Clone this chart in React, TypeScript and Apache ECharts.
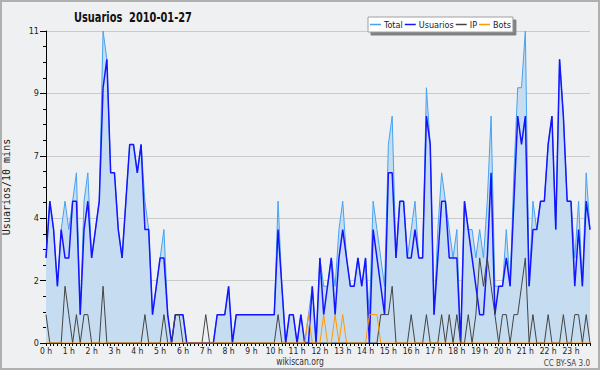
import React, { useEffect, useRef } from 'react';
import * as echarts from 'echarts';

const FONT = '"Liberation Sans Narrow", "DejaVu Sans Condensed", "Liberation Sans", sans-serif';

const HOURS = [0, 1, 2, 3, 4, 5, 6, 7, 8, 9, 10, 11, 12, 13, 14, 15, 16, 17, 18, 19, 20, 21, 22, 23];
const MINUTES = ['00', '10', '20', '30', '40', '50'];
const Y_TICKS_MAX = 11;
const Y_TICK_STEP = 2.2;

const TOTAL = [
  3, 5, 4, 2, 4, 5, 4, 5, 6, 1, 5, 6,
  3, 4, 5, 11, 10, 6, 6, 4, 3, 5, 7, 7,
  6, 7, 5, 4, 1, 2, 3, 4, 1, 0, 1, 1,
  1, 0, 0, 0, 0, 0, 0, 0, 0, 1, 1, 1,
  2, 0, 1, 1, 1, 1, 1, 1, 1, 1, 1, 1,
  1, 5, 2, 0, 1, 1, 0, 1, 0, 1, 2, 0,
  3, 2, 2, 3, 2, 4, 5, 3, 2, 2, 3, 2,
  3, 1, 5, 4, 3, 2, 7, 8, 3, 5, 5, 3,
  4, 5, 3, 3, 9, 7, 1, 4, 6, 5, 4, 3,
  4, 0, 5, 4, 4, 3, 4, 3, 5, 8, 2, 2,
  2, 4, 2, 6, 9, 9, 11, 2, 5, 4, 5, 5,
  7, 8, 4, 10, 8, 5, 5, 3, 5, 2, 6, 4,
];

const USUARIOS = [
  3, 5, 4, 2, 4, 3, 3, 5, 5, 1, 4, 5,
  3, 4, 5, 9, 10, 6, 6, 4, 3, 5, 7, 7,
  6, 7, 4, 4, 1, 2, 3, 3, 1, 0, 1, 1,
  1, 0, 0, 0, 0, 0, 0, 0, 0, 1, 1, 1,
  2, 0, 1, 1, 1, 1, 1, 1, 1, 1, 1, 1,
  1, 4, 2, 0, 1, 1, 0, 1, 0, 0, 2, 0,
  3, 1, 2, 3, 1, 3, 4, 3, 2, 2, 3, 2,
  3, 0, 4, 3, 2, 1, 6, 6, 3, 5, 5, 3,
  3, 4, 3, 3, 8, 7, 1, 3, 5, 5, 3, 3,
  3, 0, 5, 4, 3, 2, 1, 1, 3, 6, 1, 2,
  2, 3, 2, 5, 8, 7, 8, 2, 4, 4, 5, 5,
  7, 8, 4, 10, 8, 5, 5, 2, 4, 2, 5, 4,
];

const IP = [
  1, 0, 0, 0, 0, 2, 1, 0, 1, 0, 1, 1,
  0, 0, 0, 2, 0, 0, 0, 0, 0, 0, 0, 0,
  0, 0, 1, 0, 0, 0, 0, 1, 0, 0, 1, 1,
  0, 0, 0, 0, 0, 0, 1, 0, 0, 0, 0, 0,
  0, 0, 0, 0, 0, 0, 0, 0, 0, 0, 0, 0,
  0, 1, 0, 0, 0, 0, 0, 0, 0, 0, 0, 0,
  0, 0, 0, 0, 0, 0, 0, 0, 0, 0, 0, 0,
  0, 0, 0, 0, 1, 1, 1, 2, 0, 0, 0, 0,
  1, 0, 0, 0, 1, 0, 0, 0, 1, 0, 1, 0,
  1, 0, 0, 1, 0, 1, 3, 2, 3, 2, 1, 0,
  1, 1, 0, 1, 1, 2, 3, 0, 1, 0, 0, 0,
  1, 0, 0, 0, 1, 0, 0, 1, 1, 0, 1, 0,
];

const BOTS = [
  0, 0, 0, 0, 0, 0, 0, 0, 0, 0, 0, 0,
  0, 0, 0, 0, 0, 0, 0, 0, 0, 0, 0, 0,
  0, 0, 0, 0, 0, 0, 0, 0, 0, 0, 0, 0,
  0, 0, 0, 0, 0, 0, 0, 0, 0, 0, 0, 0,
  0, 0, 0, 0, 0, 0, 0, 0, 0, 0, 0, 0,
  0, 0, 0, 0, 0, 0, 0, 0, 0, 1, 0, 0,
  0, 1, 0, 0, 1, 0, 1, 0, 0, 0, 0, 0,
  0, 1, 1, 1, 0, 0, 0, 0, 0, 0, 0, 0,
  0, 0, 0, 0, 0, 0, 0, 0, 0, 0, 0, 0,
  0, 0, 0, 0, 0, 0, 0, 0, 0, 0, 0, 0,
  0, 0, 0, 0, 0, 0, 0, 0, 0, 0, 0, 0,
  0, 0, 0, 0, 0, 0, 0, 0, 0, 0, 0, 0,
];

const CATEGORIES = HOURS.flatMap((h) => MINUTES.map((m) => `${h}:${m}`));

export default function App() {
  const ref = useRef<HTMLDivElement>(null);

  useEffect(() => {
    const chart = echarts.init(ref.current!, null, { renderer: 'svg' });
    const lineSeries = (name: string, data: number[], color: string, width: number, extra: any = {}) => ({
      name,
      type: 'line',
      data,
      symbol: 'none',
      showSymbol: false,
      color,
      lineStyle: { color, width },
      emphasis: { disabled: true },
      ...extra,
    });
    chart.setOption({
      animation: false,
      backgroundColor: '#eff0f1',
      textStyle: { fontFamily: FONT },
      legend: {
        left: 368,
        top: 17,
        padding: [3, 2],
        itemGap: 2,
        itemWidth: 11,
        itemHeight: 1.5,
        icon: 'rect',
        z: 11,
        backgroundColor: '#ffffff',
        borderColor: '#a0a0a0',
        borderWidth: 1,
        shadowColor: '#808080',
        shadowBlur: 0,
        shadowOffsetX: 3,
        shadowOffsetY: 3,
        data: ['Total', 'Usuarios', 'IP', 'Bots'],
        textStyle: { fontFamily: FONT, fontSize: 9, color: '#222', padding: [0, 0, 0, -2] },
      },
      grid: { left: 46, top: 31, width: 544, height: 312, containLabel: false, outerBoundsMode: 'none' },
      xAxis: {
        type: 'category',
        data: CATEGORIES,
        boundaryGap: false,
        axisLine: { show: true, lineStyle: { color: '#000', width: 1 } },
        axisTick: { show: true, interval: 0, length: 3, lineStyle: { color: '#000' } },
        axisLabel: {
          interval: 5,
          margin: 3,
          fontSize: 8.5,
          color: '#222',
          fontFamily: FONT,
          formatter: (v: string) => `${v.split(':')[0]} h`,
        },
        splitLine: { show: false },
      },
      yAxis: {
        type: 'value',
        min: 0,
        max: Y_TICKS_MAX,
        interval: Y_TICK_STEP,
        name: 'Usuarios/10 mins',
        nameLocation: 'middle',
        nameRotate: 90,
        nameGap: 35,
        nameTextStyle: { fontFamily: '"DejaVu Sans Mono", monospace', fontSize: 10, color: '#222' },
        axisLine: { show: true, lineStyle: { color: '#000', width: 1 } },
        axisTick: { show: true, length: 6, lineStyle: { color: '#000' } },
        minorTick: { show: true, splitNumber: 4, length: 3, lineStyle: { color: '#000' } },
        axisLabel: {
          margin: 7,
          fontSize: 9,
          color: '#222',
          fontFamily: FONT,
          formatter: (v: number) => `${Math.round(v)}`,
        },
        splitLine: { show: true, lineStyle: { color: '#cbcbcb', width: 1 } },
      },
      graphic: [
        {
          type: 'text',
          x: 74,
          y: 17,
          scaleX: 0.78,
          style: {
            text: 'Usuarios  2010-01-27',
            fontFamily: FONT,
            fontSize: 14,
            fontWeight: 'bold',
            fill: '#111',
            align: 'left',
            verticalAlign: 'middle',
          },
        },
        {
          type: 'text',
          x: 300,
          y: 361,
          scaleX: 0.85,
          style: { text: 'wikiscan.org', fontFamily: FONT, fontSize: 10, fill: '#333', align: 'center', verticalAlign: 'middle' },
        },
        {
          type: 'text',
          x: 590,
          y: 363,
          style: { text: 'CC BY-SA 3.0', fontFamily: FONT, fontSize: 8, fill: '#444', align: 'right', verticalAlign: 'middle' },
        },
        {
          type: 'rect',
          z: 20,
          shape: { x: 1, y: 1, width: 598, height: 368 },
          style: { fill: 'none', stroke: '#b0b0b0', lineWidth: 2 },
        },
      ],
      series: [
        lineSeries('Total', TOTAL, '#45a2f2', 1, { areaStyle: { color: '#c6ddf1', opacity: 1 } }),
        lineSeries('Usuarios', USUARIOS, '#1414ff', 1.5),
        lineSeries('IP', IP, '#444444', 1),
        lineSeries('Bots', BOTS, '#ff9a00', 1),
      ],
    });
    return () => chart.dispose();
  }, []);

  return <div ref={ref} style={{ position: 'fixed', left: 0, top: 0, width: 600, height: 370 }} />;
}
